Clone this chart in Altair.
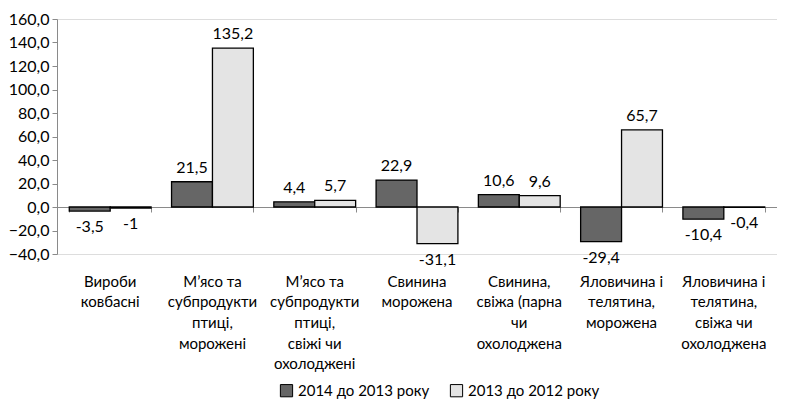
import altair as alt
import pandas as pd

categories = [
    "Вироби\nковбасні",
    "М’ясо та\nсубпродукти\nптиці,\nморожені",
    "М’ясо та\nсубпродукти\nптиці,\nсвіжі чи\nохолоджені",
    "Свинина\nморожена",
    "Свинина,\nсвіжа (парна\nчи\nохолоджена",
    "Яловичина і\nтелятина,\nморожена",
    "Яловичина і\nтелятина,\nсвіжа чи\nохолоджена",
]
series = ["2014 до 2013 року", "2013 до 2012 року"]
values_2014 = [-3.5, 21.5, 4.4, 22.9, 10.6, -29.4, -10.4]
values_2013 = [-1, 135.2, 5.7, -31.1, 9.6, 65.7, -0.4]
y_ticks = [-40, -20, 0, 20, 40, 60, 80, 100, 120, 140, 160]

rows = []
for c, v1, v2 in zip(categories, values_2014, values_2013):
    rows.append({"category": c, "series": series[0], "value": float(v1)})
    rows.append({"category": c, "series": series[1], "value": float(v2)})
df = pd.DataFrame(rows)

FONT = "Lato"

x_scale = alt.Scale(paddingInner=0.2, paddingOuter=0.12)
y_scale = alt.Scale(domain=[-40, 160], nice=False)

base = alt.Chart(df).transform_calculate(
    label="replace(toString(datum.value), '.', ',')"
)

y_axis = alt.Axis(
    values=y_ticks,
    labelExpr="replace(format(datum.value, '.1f'), '.', ',')",
    grid=False, domainColor="#8a8a8a", tickColor="#8a8a8a", tickSize=5,
    labelFontSize=16, labelColor="black", title=None, labelPadding=3,
)

bars = base.mark_bar(stroke="black", strokeWidth=1.3).encode(
    x=alt.X("category:N", sort=categories, scale=x_scale,
            axis=alt.Axis(title=None, labelAngle=0, domain=False, ticks=False,
                          orient="bottom",
                          labelPadding=20, labelFontSize=15, labelLineHeight=20.7,
                          labelExpr="split(datum.label, '\\n')", labelLimit=200,
                          labelColor="black", labelBaseline="top")),
    xOffset=alt.XOffset("series:N", sort=series, scale=alt.Scale(paddingInner=0)),
    y=alt.Y("value:Q", scale=y_scale, axis=y_axis),
    color=alt.Color("series:N", sort=series,
                    scale=alt.Scale(domain=series, range=["#666666", "#e4e4e4"]),
                    legend=alt.Legend(title=None, orient="none", legendX=222, legendY=364,
                                      direction="horizontal", symbolType="square",
                                      symbolSize=150, symbolStrokeColor="black",
                                      symbolStrokeWidth=1, labelFontSize=15,
                                      labelColor="black", columnPadding=18)),
)

pos_text = base.transform_filter("datum.value >= 0").mark_text(
    baseline="bottom", dy=-6, fontSize=16, font=FONT, color="black"
).encode(
    x=alt.X("category:N", sort=categories, scale=x_scale,
            axis=alt.Axis(title=None, labels=False, orient="bottom", offset=-47,
                          domain=True, domainColor="#8a8a8a", ticks=True,
                          tickBand="extent", tickColor="#8a8a8a", tickSize=5)),
    xOffset=alt.XOffset("series:N", sort=series),
    y=alt.Y("value:Q", scale=y_scale, axis=y_axis),
    text="label:N",
)

neg_text = base.transform_filter("datum.value < 0").mark_text(
    baseline="top", dy=8, fontSize=16, font=FONT, color="black"
).encode(
    x=alt.X("category:N", sort=categories, scale=x_scale, axis=None),
    xOffset=alt.XOffset("series:N", sort=series),
    y=alt.Y("value:Q", scale=y_scale, axis=y_axis),
    text="label:N",
)

chart = alt.layer(bars, pos_text, neg_text).resolve_axis(x="independent").properties(
    width=720, height=235,
    padding={"left": 0, "top": 3, "right": 0, "bottom": 0},
).configure_view(stroke=None).configure(font=FONT)

chart.save("out.html", embed_options={"renderer": "svg", "actions": False})
